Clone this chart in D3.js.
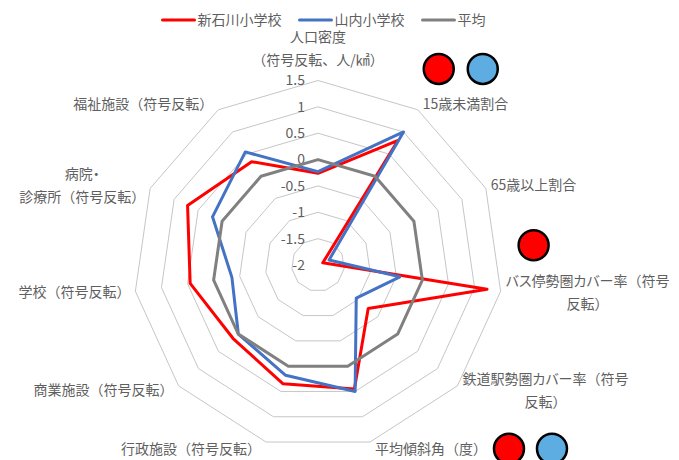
<!DOCTYPE html>
<html>
<head>
<meta charset="utf-8">
<script src="https://cdn.jsdelivr.net/npm/d3@7"></script>
<style>
  body { margin: 0; background: #fff; }
  svg text { font-family: "Noto Sans CJK JP", "Noto Sans", sans-serif; fill: #5f5f5f; }
</style>
</head>
<body>
<svg id="chart"></svg>
<script>
// axis names (line breaks as in the original)
const categories = [
  ["人口密度", "（符号反転、人/㎢）"],
  ["15歳未満割合"],
  ["65歳以上割合"],
  ["バス停勢圏カバー率（符号", "反転）"],
  ["鉄道駅勢圏カバー率（符号", "反転）"],
  ["平均傾斜角（度）"],
  ["行政施設（符号反転）"],
  ["商業施設（符号反転）"],
  ["学校（符号反転）"],
  ["病院・", "診療所（符号反転）"],
  ["福祉施設（符号反転）"]
];

const seriesNames = ["新石川小学校", "山内小学校", "平均"];
const shinIshikawa = [-0.26, 0.81, -1.9, 1.24, -0.74, 0.45, 0.35, 0.13, 0.45, 0.72, 0.33];
const yamauchi = [-0.23, 1.0, -1.77, -0.43, -1.04, 0.5, 0.18, 0.0, -0.35, 0.2, 0.55];
const average = [0, 0, 0, 0, 0, 0, 0, 0, 0, 0, 0];
const tickValues = [-2, -1.5, -1, -0.5, 0, 0.5, 1, 1.5];

// coloured dots placed beside some axis labels
const markerAxes = [1, 1, 3, 5, 5];
const markerColors = ["#ff0000", "#5dade2", "#ff0000", "#ff0000", "#5dade2"];

const width = 679;
const height = 460;
const cx = 318, cy = 265, R = 184.5;
const colors = ["#ff0000", "#4472c4", "#808080"];

const svg = d3.select("#chart").attr("width", width).attr("height", height);

const r = d3.scaleLinear().domain([-2, 1.5]).range([0, R]);
const angle = d3.scaleLinear().domain([0, categories.length]).range([0, 2 * Math.PI]);

const g = svg.append("g").attr("transform", `translate(${cx},${cy})`);

// grid rings
const ring = d3.lineRadial()
  .angle((d, i) => angle(i))
  .radius(d => r(d))
  .curve(d3.curveLinearClosed);

g.selectAll(".ring")
  .data(tickValues.filter(v => v > -2))
  .enter().append("path")
  .attr("class", "ring")
  .attr("d", v => ring(categories.map(() => v)))
  .attr("fill", "none")
  .attr("stroke", "#c6c6c6")
  .attr("stroke-width", 1);

// tick labels
g.selectAll(".tick")
  .data(tickValues)
  .enter().append("text")
  .attr("x", -13)
  .attr("y", v => -r(v))
  .attr("dy", "0.35em")
  .attr("text-anchor", "end")
  .attr("font-size", "14px")
  .text(v => v);

// series
const seriesData = [shinIshikawa, yamauchi, average];
g.selectAll(".series")
  .data(seriesData)
  .enter().append("path")
  .attr("class", "series")
  .attr("d", d => ring(d))
  .attr("fill", "none")
  .attr("stroke", (d, i) => colors[i])
  .attr("stroke-width", 3)
  .attr("stroke-linejoin", "round");

// axis labels
const vertex = i => {
  const a = angle(i);
  return { x: Math.sin(a) * R, y: -Math.cos(a) * R, s: Math.sin(a), c: Math.cos(a) };
};
const lineH = 23;
const labelBoxes = [];

// katakana gets proportional widths, everything else stays full width
const addRuns = (text, str) => {
  const runs = str.match(/[\u30a0-\u30ff]+|[^\u30a0-\u30ff]+/g);
  runs.forEach(run => {
    text.append("tspan")
      .style("font-feature-settings", /[\u30a0-\u30ff]/.test(run) ? "'palt'" : "normal")
      .text(run);
  });
};

g.selectAll(".cat")
  .data(categories)
  .enter().append("g")
  .attr("class", "cat")
  .each(function(lines, i) {
    const lg = d3.select(this);
    const texts = lines.map(t => {
      const el = lg.append("text")
        .attr("text-anchor", "middle")
        .attr("dy", "0.35em")
        .attr("font-size", "14px");
      addRuns(el, t);
      return el;
    });
    const w = d3.max(texts, t => t.node().getComputedTextLength());
    const v = vertex(i);
    const n = lines.length;
    let x, yc;
    if (Math.abs(v.s) < 0.1) {
      x = v.x;
      yc = v.y - 9 - n * lineH / 2;
    } else {
      yc = v.y - v.c * 7;
      x = v.s > 0 ? v.x + 5 + w / 2 : v.x - 5 - w / 2;
    }
    texts.forEach((t, k) => t.attr("x", x).attr("y", yc + (k - (n - 1) / 2) * lineH));
    labelBoxes[i] = { left: x - w / 2, right: x + w / 2, yc, n };
  });

// dots next to labels
const markerPos = (axis, k) => {
  const b = labelBoxes[axis];
  const same = markerAxes.slice(0, k).filter(a => a === axis).length;
  if (axis === 5) return { x: b.right + 22 + same * 43, y: b.yc };
  if (axis === 3) return { x: b.left + 28 + same * 43, y: b.yc - 47 };
  return { x: b.left + 16 + same * 44, y: b.yc - 35 };
};

g.selectAll(".marker")
  .data(markerAxes)
  .enter().append("circle")
  .attr("class", "marker")
  .attr("cx", (a, k) => markerPos(a, k).x)
  .attr("cy", (a, k) => markerPos(a, k).y)
  .attr("r", 15)
  .attr("fill", (a, k) => markerColors[k])
  .attr("stroke", "#000")
  .attr("stroke-width", 2.5);

// legend
const legend = svg.append("g");
let lx = 0;
seriesNames.forEach((name, i) => {
  const item = legend.append("g").attr("transform", `translate(${lx},0)`);
  item.append("line")
    .attr("x1", 0).attr("x2", 32).attr("y1", 0).attr("y2", 0)
    .attr("stroke", colors[i]).attr("stroke-width", 3).attr("stroke-linecap", "round");
  const t = item.append("text")
    .attr("x", 35).attr("dy", "0.35em")
    .attr("font-size", "14px")
    .text(name);
  lx += 35 + t.node().getComputedTextLength() + 18;
});
const legendW = lx - 18;
legend.attr("transform", `translate(${324 - legendW / 2},20)`);
</script>
</body>
</html>
